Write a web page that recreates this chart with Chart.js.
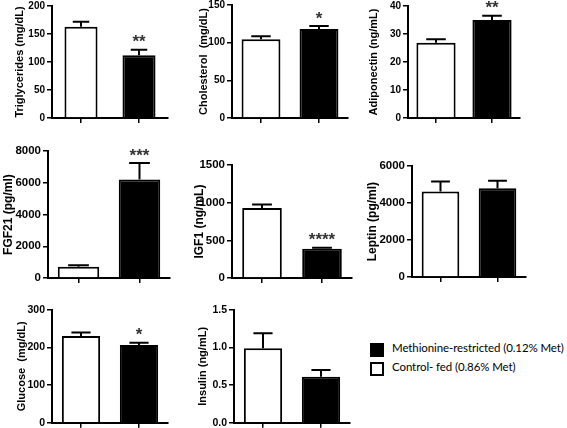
<!DOCTYPE html>
<html>
<head>
<meta charset="utf-8">
<script src="https://cdn.jsdelivr.net/npm/chart.js@4"></script>
<style>
  body { margin: 0; background: #fff; }
  #wrap { position: relative; width: 567px; height: 428px; overflow: hidden; }
  #wrap canvas { position: absolute; }
  .key { position: absolute; left: 370px; font-family: Lato, sans-serif; font-size: 11.5px; letter-spacing: -0.1px; color: #000; white-space: nowrap; }
  .key span.box { position: absolute; left: 0; top: 1px; width: 10px; height: 10px; border: 2px solid #000; }
  .key span.txt { position: absolute; left: 22px; top: -1px; }
</style>
</head>
<body>
<div id="wrap"></div>
<script>
// data
const groups = ['Control- fed (0.86% Met)', 'Methionine-restricted (0.12% Met)'];
const markers = ['Triglycerides (mg/dL)', 'Cholesterol  (mg/dL)', 'Adiponectin (ng/mL)',
  'FGF21 (pg/ml)', 'IGF1 (ng/mL)', 'Leptin (pg/ml)', 'Glucose  (mg/dL)', 'Insulin (ng/mL)'];
const controlMeans = [163, 104.5, 26.9, 720, 930, 4620, 231, 0.99];
const controlErrors = [9, 4, 1.2, 90, 45, 540, 9, 0.2];
const restrictedMeans = [112, 118, 35, 6200, 390, 4800, 207, 0.61];
const restrictedErrors = [10, 4, 1.5, 1050, 12, 410, 6, 0.09];
const stars = ['**', '*', '**', '***', '****', '', '*', ''];
const axisMax = [200, 150, 40, 8000, 1500, 6000, 300, 1.5];
const axisStep = [50, 50, 10, 2000, 500, 2000, 100, 0.5];
const tickDecimals = [0, 0, 0, 0, 0, 0, 0, 1];

// where each panel sits in the figure (axis x, top tick y, zero y, axis end x, title centre x)
const panels = [
  { ax: 52, top: 6, bottom: 118, right: 168, tx: 19.5, bar: 0.57, tick: 10, title: 11 },
  { ax: 232, top: 5, bottom: 118, right: 348, tx: 204, bar: 0.67, tick: 10, title: 11 },
  { ax: 408, top: 6, bottom: 118, right: 520, tx: 373.5, bar: 0.7, tick: 10, title: 11 },
  { ax: 48, top: 151, bottom: 279, right: 170, tx: 8.5, bar: 0.68, tick: 11.5, title: 12 },
  { ax: 232, top: 165, bottom: 279, right: 352, tx: 199, bar: 0.66, tick: 11.5, title: 12 },
  { ax: 412, top: 166, bottom: 278, right: 526, tx: 372, bar: 0.66, tick: 11.5, title: 12 },
  { ax: 52, top: 310, bottom: 423, right: 168, tx: 21.5, bar: 0.66, tick: 10.5, title: 11 },
  { ax: 234, top: 310, bottom: 423, right: 350, tx: 203, bar: 0.66, tick: 10.5, title: 11 }
];

const errorBars = {
  id: 'errorBars',
  afterDatasetsDraw(chart) {
    const ctx = chart.ctx;
    const y = chart.scales.y;
    const ds = chart.data.datasets[0];
    const meta = chart.getDatasetMeta(0);
    ctx.save();
    ctx.strokeStyle = '#000';
    ctx.lineWidth = 2;
    meta.data.forEach((bar, i) => {
      const y0 = y.getPixelForValue(ds.data[i]);
      const y1 = y.getPixelForValue(ds.data[i] + ds.errors[i]);
      const half = bar.width / 4;
      ctx.beginPath();
      ctx.moveTo(bar.x, y0);
      ctx.lineTo(bar.x, y1);
      ctx.moveTo(bar.x - half, y1);
      ctx.lineTo(bar.x + half, y1);
      ctx.stroke();
      if (ds.stars[i]) {
        ctx.fillStyle = '#333';
        ctx.font = 'bold 17px "Liberation Sans"';
        ctx.textAlign = 'center';
        ctx.textBaseline = 'middle';
        ctx.fillText(ds.stars[i], bar.x, y1 - 7);
      }
    });
    ctx.restore();
  }
};

const wrap = document.getElementById('wrap');

markers.forEach((name, k) => {
  const p = panels[k];
  const padTop = 14;
  const left = Math.round(p.tx - p.title * 0.6);
  const top = p.top - padTop;
  const w = p.right - left + 2;
  const h = p.bottom - top + 8;
  const canvas = document.createElement('canvas');
  canvas.width = w;
  canvas.height = h;
  canvas.style.left = left + 'px';
  canvas.style.top = top + 'px';
  wrap.appendChild(canvas);

  new Chart(canvas, {
    type: 'bar',
    data: {
      labels: groups,
      datasets: [{
        data: [controlMeans[k], restrictedMeans[k]],
        errors: [controlErrors[k], restrictedErrors[k]],
        stars: ['', stars[k]],
        backgroundColor: ['#ffffff', '#000000'],
        borderColor: '#000',
        borderWidth: 2,
        borderSkipped: 'start',
        barPercentage: p.bar,
        categoryPercentage: 1
      }]
    },
    options: {
      responsive: false,
      maintainAspectRatio: false,
      animation: false,
      layout: { padding: { top: padTop, right: 2, left: 0, bottom: 0 } },
      scales: {
        x: {
          ticks: { display: false },
          grid: { offset: false, drawOnChartArea: false, tickLength: 5, color: '#000', lineWidth: 1.5 },
          border: { color: '#000', width: 2 },
          afterFit: s => { s.height = 8; }
        },
        y: {
          min: 0,
          max: axisMax[k],
          ticks: {
            stepSize: axisStep[k],
            color: '#000',
            padding: 2,
            font: { family: 'Liberation Sans', size: p.tick, weight: 'bold' },
            callback: v => v.toFixed(tickDecimals[k])
          },
          grid: { drawOnChartArea: false, tickLength: 5, color: '#000', lineWidth: 1.5 },
          border: { color: '#000', width: 2 },
          title: {
            display: true,
            text: name,
            color: '#000',
            padding: 0,
            font: { family: 'Liberation Sans', size: p.title, weight: 'bold' }
          },
          afterFit: s => { s.width = p.ax - left; }
        }
      },
      plugins: {
        legend: { display: false },
        tooltip: { enabled: false }
      }
    },
    plugins: [errorBars]
  });
});

// shared key
[[groups[1], '#000', 342], [groups[0], '#fff', 361]].forEach(([label, fill, y]) => {
  const d = document.createElement('div');
  d.className = 'key';
  d.style.top = y + 'px';
  d.innerHTML = `<span class="box" style="background:${fill}"></span><span class="txt">${label}</span>`;
  wrap.appendChild(d);
});
</script>
</body>
</html>
